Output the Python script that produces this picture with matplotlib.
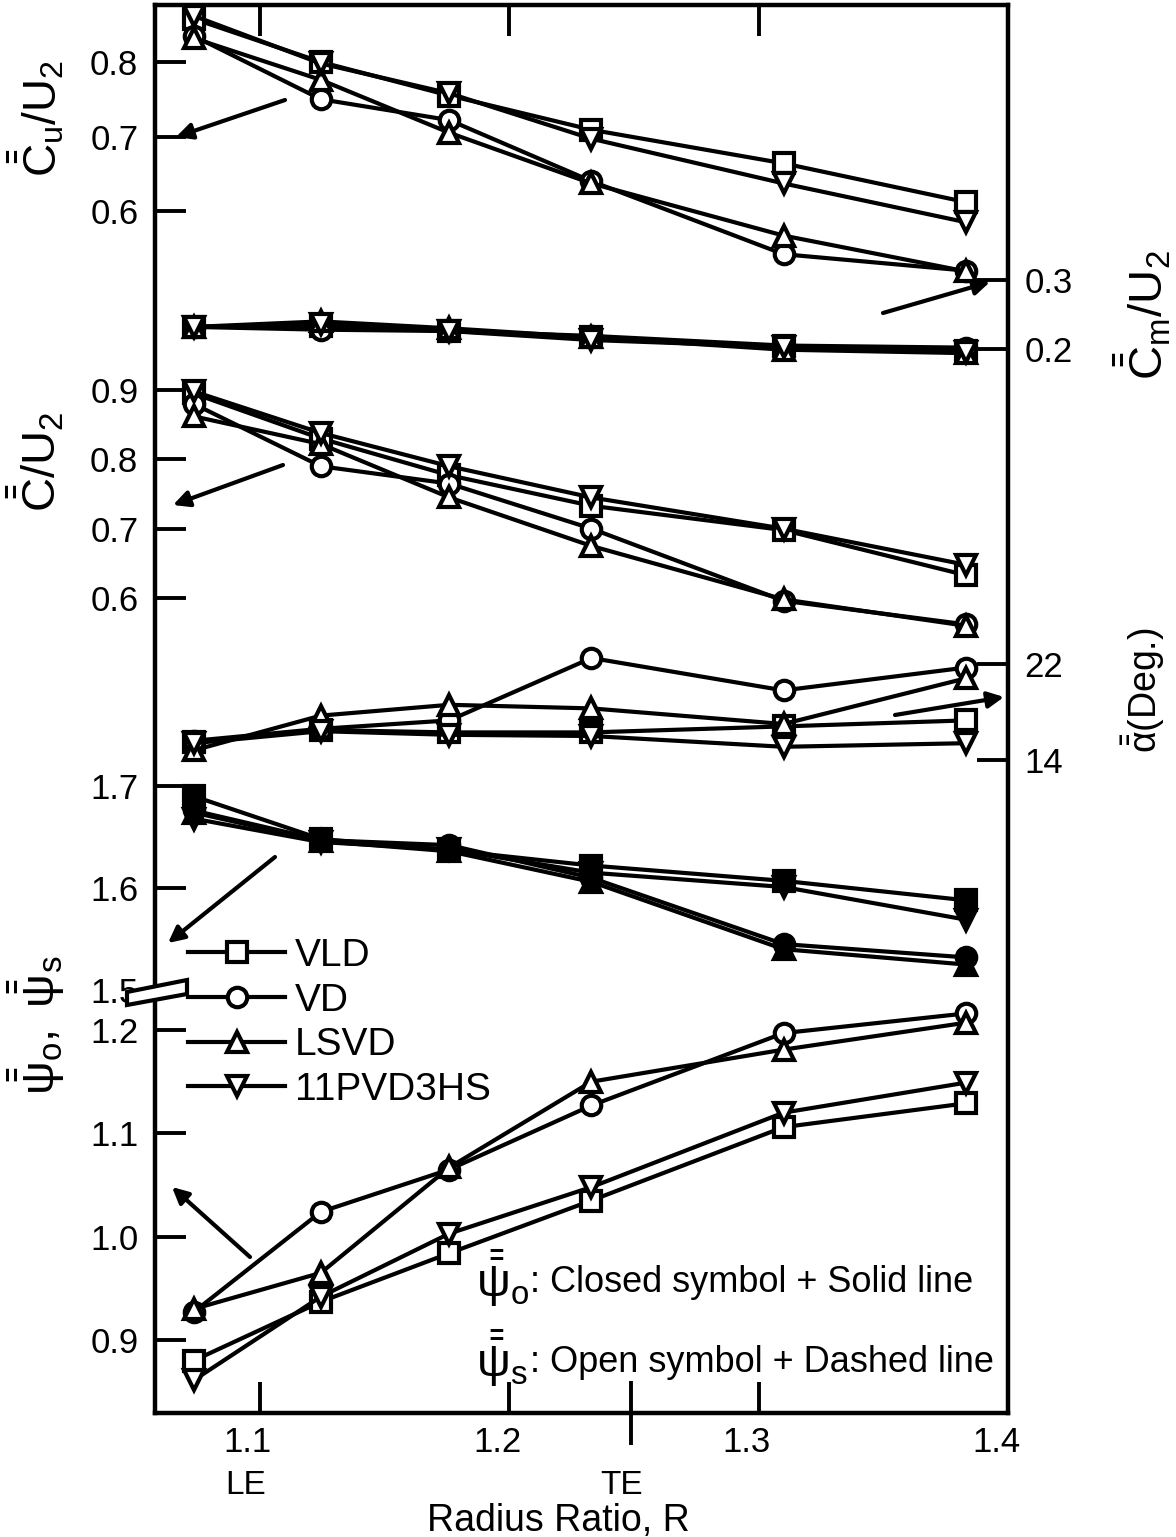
import numpy as np
import matplotlib
matplotlib.use("Agg")
import matplotlib.pyplot as plt
from matplotlib.lines import Line2D
from matplotlib.patches import Polygon
import matplotlib.transforms as mtransforms

plt.rcParams['font.family'] = ['Liberation Sans', 'DejaVu Sans']
plt.rcParams['mathtext.fontset'] = 'custom'
plt.rcParams['mathtext.rm'] = 'Liberation Sans'
plt.rcParams['mathtext.it'] = 'Liberation Sans'
plt.rcParams['mathtext.bf'] = 'Liberation Sans:bold'

# radius ratio stations
R = [1.0735, 1.1245, 1.176, 1.233, 1.310, 1.383]
names = ['VLD', 'VD', 'LSVD', '11PVD3HS']
marks = ['s', 'o', '^', 'v']

# Cu/U2 (left scale, top)
cu_vld = [0.858, 0.800, 0.755, 0.709, 0.664, 0.612]
cu_vd = [0.835, 0.750, 0.722, 0.640, 0.542, 0.520]
cu_lsvd = [0.832, 0.776, 0.705, 0.637, 0.567, 0.519]
cu_pvd = [0.862, 0.798, 0.758, 0.697, 0.637, 0.585]

# Cm/U2 (right scale)
cm_vld = [0.232, 0.233, 0.226, 0.217, 0.204, 0.197]
cm_vd = [0.232, 0.228, 0.226, 0.219, 0.205, 0.202]
cm_lsvd = [0.232, 0.240, 0.230, 0.217, 0.199, 0.194]
cm_pvd = [0.232, 0.236, 0.226, 0.213, 0.203, 0.195]

# C/U2 (left scale)
c_vld = [0.895, 0.830, 0.777, 0.733, 0.698, 0.633]
c_vd = [0.880, 0.790, 0.765, 0.700, 0.596, 0.562]
c_lsvd = [0.862, 0.822, 0.745, 0.675, 0.598, 0.560]
c_pvd = [0.898, 0.838, 0.790, 0.745, 0.700, 0.648]

# flow angle alpha, deg (right scale)
al_vld = [15.5, 16.5, 16.3, 16.3, 16.8, 17.3]
al_vd = [15.6, 16.6, 17.3, 22.5, 19.8, 21.7]
al_lsvd = [14.8, 17.7, 18.6, 18.3, 17.0, 20.8]
al_pvd = [15.4, 16.4, 16.1, 16.0, 15.1, 15.4]

# psi_o (closed symbols)
po_vld = [1.690, 1.648, 1.637, 1.622, 1.607, 1.588]
po_vd = [1.676, 1.647, 1.642, 1.610, 1.545, 1.532]
po_lsvd = [1.674, 1.646, 1.636, 1.606, 1.540, 1.525]
po_pvd = [1.668, 1.645, 1.638, 1.615, 1.601, 1.569]

# psi_s (open symbols)
ps_vld = [0.880, 0.937, 0.984, 1.035, 1.106, 1.129]
ps_vd = [0.927, 1.024, 1.065, 1.127, 1.197, 1.216]
ps_lsvd = [0.930, 0.965, 1.067, 1.150, 1.181, 1.207]
ps_pvd = [0.861, 0.942, 1.003, 1.048, 1.120, 1.149]

W, H = 1176, 1537
fig = plt.figure(figsize=(W / 100, H / 100), dpi=100)

# frame in pixels
L, Rt, T, B = 155, 1008, 5, 1413
rect = [L / W, 1 - B / H, (Rt - L) / W, (B - T) / H]
xlim = (1.058, 1.4)
TICK = 25


def px(x, y):
    return (x / W, 1 - y / H)


def fit_ylim(ax, v1, y1, v2, y2):
    k = (y2 - y1) / (v1 - v2)
    ax.set_ylim(v1 - (B - y1) / k, v1 + (y1 - T) / k)


def panel(side, ticks, v1, y1, v2, y2):
    ax = fig.add_axes(rect, facecolor='none')
    for s in ax.spines.values():
        s.set_visible(False)
    ax.set_xlim(*xlim)
    ax.set_xticks([])
    fit_ylim(ax, v1, y1, v2, y2)
    ax.set_yticks(ticks)
    if side == 'right':
        ax.yaxis.tick_right()
    ax.tick_params(axis='y', direction='in', length=22, width=2.8, labelsize=TICK, pad=12)
    return ax


base = fig.add_axes(rect)
base.set_xlim(*xlim)
base.set_yticks([])
for s in base.spines.values():
    s.set_linewidth(3.2)
base.set_xticks([1.1, 1.2, 1.3, 1.4])
base.set_xticklabels(['1.1', '1.2', '1.3', '1.4'])
base.set_xticks([1.249], minor=True)
base.tick_params(axis='x', which='major', direction='in', length=22, width=2.8,
                 labelsize=TICK, pad=9, top=True)
base.tick_params(axis='x', which='minor', direction='inout', length=46, width=2.8)
shift = mtransforms.ScaledTranslation(-12 / 100, 0, fig.dpi_scale_trans)
for lab in base.get_xticklabels():
    lab.set_transform(lab.get_transform() + shift)
fig.text(*px(246, 1486), 'LE', ha='center', va='center', fontsize=24)
fig.text(*px(622, 1486), 'TE', ha='center', va='center', fontsize=24)
fig.text(*px(558, 1521), 'Radius Ratio, R', ha='center', va='center', fontsize=27)

ax_cu = panel('left', [0.6, 0.7, 0.8], 0.8, 62, 0.6, 211)
ax_cm = panel('right', [0.2, 0.3], 0.3, 280, 0.2, 349)
ax_c = panel('left', [0.6, 0.7, 0.8, 0.9], 0.9, 390, 0.6, 598)
ax_al = panel('right', [14, 22], 22, 664, 14, 760)
ax_po = panel('left', [1.5, 1.6, 1.7], 1.7, 786, 1.5, 990)
ax_ps = panel('left', [0.9, 1.0, 1.1, 1.2], 1.2, 1030, 0.9, 1340)

groups = [
    (ax_cu, [cu_vld, cu_vd, cu_lsvd, cu_pvd], 'white'),
    (ax_cm, [cm_vld, cm_vd, cm_lsvd, cm_pvd], 'white'),
    (ax_c, [c_vld, c_vd, c_lsvd, c_pvd], 'white'),
    (ax_al, [al_vld, al_vd, al_lsvd, al_pvd], 'white'),
    (ax_po, [po_vld, po_vd, po_lsvd, po_pvd], 'black'),
    (ax_ps, [ps_vld, ps_vd, ps_lsvd, ps_pvd], 'white'),
]
for ax, series, face in groups:
    for vals, m in zip(series, marks):
        ax.plot(R, vals, color='black', lw=3, marker=m, ms=14, mfc=face,
                mec='black', mew=3, clip_on=False)

# axis titles
fig.text(*px(36, 118), r'$\bar{\bar{\mathrm{C}}}_{\mathrm{u}}/\mathrm{U}_2$', rotation=90,
         ha='center', va='center', fontsize=33)
fig.text(*px(36, 462), r'$\bar{\bar{\mathrm{C}}}/\mathrm{U}_2$', rotation=90,
         ha='center', va='center', fontsize=34)
fig.text(*px(36, 1025), r'$\bar{\bar{\psi}}_{\mathrm{o}},\ \bar{\bar{\psi}}_{\mathrm{s}}$',
         rotation=90, ha='center', va='center', fontsize=34)
fig.text(*px(1143, 315), r'$\bar{\bar{\mathrm{C}}}_{\mathrm{m}}/\mathrm{U}_2$', rotation=90,
         ha='center', va='center', fontsize=34)
fig.text(*px(1143, 690), r'$\bar{\bar{\alpha}}$(Deg.)', rotation=90,
         ha='center', va='center', fontsize=27)

# arrows pointing to the relevant scale
arrows = [((285, 100), (176, 137)), ((883, 313), (990, 282)),
          ((283, 465), (173, 505)), ((895, 715), (1004, 697)),
          ((275, 857), (168, 943)), ((250, 1257), (172, 1187))]
for tail, head in arrows:
    base.annotate('', xy=px(*head), xytext=px(*tail), xycoords='figure fraction',
                  textcoords='figure fraction',
                  arrowprops=dict(arrowstyle='-|>', lw=3, color='black',
                                  mutation_scale=24, shrinkA=0, shrinkB=0))

# axis break
brk = Polygon([px(127, 992), px(187, 980), px(187, 994), px(127, 1005)],
              closed=True, transform=fig.transFigure, facecolor='white',
              edgecolor='black', lw=3, zorder=10)
fig.add_artist(brk)

# legend
handles = [Line2D([], [], color='black', lw=3, marker=m, ms=14, mfc='white',
                  mec='black', mew=3) for m in marks]
fig.legend(handles, names, loc='upper left', bbox_to_anchor=px(188, 938),
           frameon=False, fontsize=28, handlelength=2.5, handletextpad=0.25,
           labelspacing=0.22, borderaxespad=0, borderpad=0)

fig.text(*px(476, 1278), r'$\bar{\bar{\psi}}_{\mathrm{o}}$', ha='left', va='center', fontsize=34)
fig.text(*px(530, 1283), ': Closed symbol + Solid line', ha='left', va='center', fontsize=26)
fig.text(*px(476, 1358), r'$\bar{\bar{\psi}}_{\mathrm{s}}$', ha='left', va='center', fontsize=34)
fig.text(*px(530, 1362), ': Open symbol + Dashed line', ha='left', va='center', fontsize=26)

fig.savefig('out.png', dpi=100)
